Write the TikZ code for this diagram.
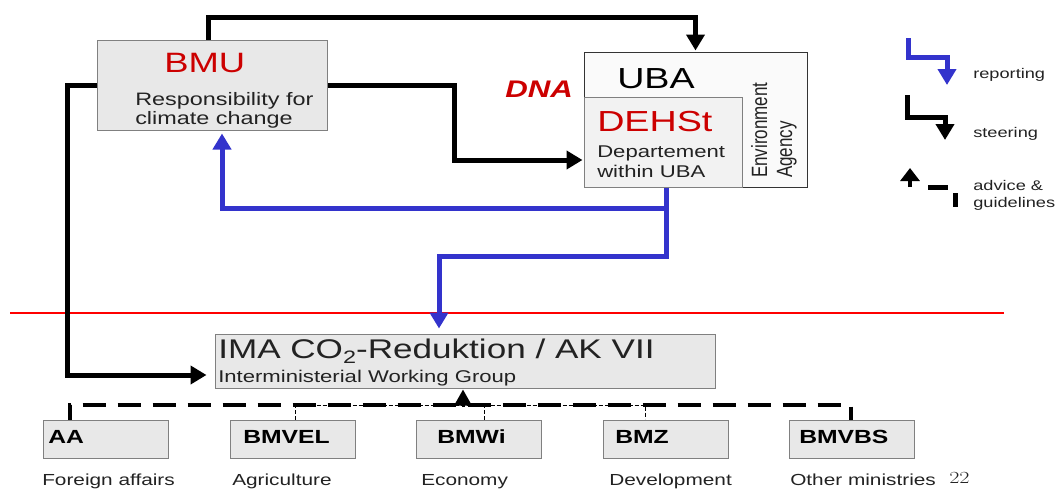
\documentclass[tikz,border=0pt]{standalone}
\usepackage{fontspec}
\setsansfont{Liberation Sans}
\usepackage{xcolor}
\usepackage{tikz}
\usetikzlibrary{arrows.meta}

\definecolor{dred}{RGB}{204,0,0}
\definecolor{rblue}{RGB}{51,51,204}
\definecolor{boxgray}{RGB}{232,232,232}
\definecolor{lgray}{RGB}{242,242,242}
\definecolor{wgray}{RGB}{250,250,250}
\definecolor{edge}{RGB}{128,128,128}
\definecolor{dgray}{RGB}{34,34,34}

\newcommand{\fsz}[1]{\sffamily\fontsize{#1}{#1}\selectfont}

\begin{document}
\begin{tikzpicture}[x=1pt, y=-1pt, >={Triangle[width=18pt,length=16pt]}, shorten >=1pt, line join=miter]

\useasboundingbox (0,0) rectangle (1062,490);

\tikzstyle{box}=[draw=edge, fill=boxgray, line width=1pt, inner sep=0pt]
\tikzstyle{txt}=[inner sep=0pt, anchor=base west, xscale=1.3]
\tikzstyle{steer}=[->, line width=5pt, black]
\tikzstyle{report}=[->, line width=5pt, rblue]
\tikzstyle{stub}=[line width=1pt, dash pattern=on 4pt off 2pt]

% upper level
\node [box, minimum width=230, minimum height=90] (bmu) at (212,85) {};
\node [box, draw=black!80, fill=wgray, minimum width=223, minimum height=135] (uba) at (695.5,119.5) {};
\node [box, fill=lgray, minimum width=158, minimum height=90] (dehst) at (663,142) {};

\node [txt, text=dred, font=\fsz{28}] (bmut) at (164,72) {BMU};
\node [txt, text=dgray, font=\fsz{18}] (bmud1) at (135,105) {Responsibility for};
\node [txt, text=dgray, font=\fsz{18}] (bmud2) at (135,124) {climate change};
\node [txt, text=dred, font=\fsz{24}\bfseries\itshape] (dna) at (505,97) {DNA};
\node [txt, font=\fsz{29}] (ubat) at (617,88) {UBA};
\node [txt, text=dred, font=\fsz{29}] (dehstt) at (597,131) {DEHSt};
\node [txt, text=dgray, font=\fsz{17}] (dehstd1) at (597,157) {Departement};
\node [txt, text=dgray, font=\fsz{17}] (dehstd2) at (597,177) {within UBA};
\node [txt, rotate=90, text=dgray, font=\fsz{17}] (env1) at (767,178) {Environment};
\node [txt, rotate=90, text=dgray, font=\fsz{17}] (env2) at (792,178) {Agency};

% working group
\node [box, minimum width=500, minimum height=54] (ima) at (465,361) {};
\node [txt, text=dgray, font=\fsz{27}] (imat) at (218,358) {IMA CO\raisebox{-5pt}{\fsz{18}2}-Reduktion / AK VII};
\node [txt, text=dgray, font=\fsz{17}] (imad) at (218,382) {Interministerial Working Group};

% ministries
\node [box, minimum width=125, minimum height=38] (aa) at (105.5,439) {};
\node [box, minimum width=125, minimum height=38] (bmvel) at (292.5,439) {};
\node [box, minimum width=125, minimum height=38] (bmwi) at (478.5,439) {};
\node [box, minimum width=125, minimum height=38] (bmz) at (665.5,439) {};
\node [box, minimum width=125, minimum height=38] (bmvbs) at (852,439) {};

\node [txt, font=\fsz{19}\bfseries] (aat) at (48,443) {AA};
\node [txt, font=\fsz{19}\bfseries] (bmvelt) at (243,443) {BMVEL};
\node [txt, font=\fsz{19}\bfseries] (bmwit) at (437,443) {BMWi};
\node [txt, font=\fsz{19}\bfseries] (bmzt) at (615,443) {BMZ};
\node [txt, font=\fsz{19}\bfseries] (bmvbst) at (799,443) {BMVBS};

\node [txt, text=dgray, font=\fsz{16}] (aad) at (42,485) {Foreign affairs};
\node [txt, text=dgray, font=\fsz{16}] (bmveld) at (232,485) {Agriculture};
\node [txt, text=dgray, font=\fsz{16}] (bmwid) at (421,485) {Economy};
\node [txt, text=dgray, font=\fsz{16}] (bmzd) at (609,485) {Development};
\node [txt, text=dgray, font=\fsz{16}] (bmvbsd) at (790,485) {Other ministries};
\node [txt, text=dgray, font=\rmfamily\fontsize{17}{17}\selectfont] (pnum) at (949,483) {22};

% red border line
\coordinate (sepl) at (10,313);
\coordinate (sepr) at (1004,313);
\draw [red, line width=2pt, shorten >=0pt] (sepl) -- (sepr);

% steering
\coordinate (top) at (0,17);
\coordinate (lft) at (67,375);
\coordinate (rgt) at (454,160);
\draw [steer] ([xshift=-4pt]bmu.north) -- ([xshift=-4pt]bmu.north |- top) -| (uba.north);
\draw [steer, shorten >=8pt] (bmu.west) -| (lft) -- (lft -| ima.west);
\draw [steer] (bmu.east) -| (rgt) -- (rgt -| dehst.west);

% reporting
\coordinate (rep) at (666,256);
\coordinate (rep2) at (439,256);
\coordinate (brn) at (222,208);
\draw [report, shorten >=5pt] (rep |- dehst.south) -- (rep) -- (rep2) -- (rep2 |- ima.north);
\draw [report, shorten >=3pt] (rep |- brn) -- (brn) -- (brn |- bmu.south);

% advice
\coordinate (stl) at (70,405);
\coordinate (str) at (851,405);
\coordinate (tv1) at (295,405);
\coordinate (tv2) at (484,405);
\coordinate (tv3) at (645,405);
\coordinate (adv) at (463,407);
\draw [stub] (bmvel.north -| tv1) -- (tv1) -- (tv3) -- (bmz.north -| tv3);
\draw [stub] (bmwi.north -| tv2) -- (tv2);
\draw [line width=4.5pt, dash pattern=on 23pt off 12pt, dash phase=8pt, shorten >=0pt] (aa.north -| stl) -- (stl) -- (str) -- (bmvbs.north -| str);
\draw [-{Triangle[width=17pt,length=16pt]}, line width=3pt] (adv) -- (adv |- ima.south);

% legend
\coordinate (r1) at (908,38);
\coordinate (r2) at (947,85);
\coordinate (s1) at (907,95);
\coordinate (s2) at (945,140);
\coordinate (a1) at (910,187);
\coordinate (a2) at (910,168);
\draw [report, shorten >=0pt] (r1) -- ++(0,19) -| (r2);
\draw [steer, shorten >=0pt] (s1) -- ++(0,22) -| (s2);
\draw [-{Triangle[width=19pt,length=13pt]}, line width=4.5pt, shorten >=0pt] (a1) -- (a2);
\draw [line width=5pt, shorten >=0pt] (928,187) -- (948,187) (955,193) -- (955,207);

\node [txt, text=dgray, font=\fsz{14}] (lrep) at (973,78) {reporting};
\node [txt, text=dgray, font=\fsz{14}] (lste) at (973,137) {steering};
\node [txt, text=dgray, font=\fsz{14}] (ladv1) at (973,190) {advice \&};
\node [txt, text=dgray, font=\fsz{14}] (ladv2) at (973,207) {guidelines};
\end{tikzpicture}
\end{document}
